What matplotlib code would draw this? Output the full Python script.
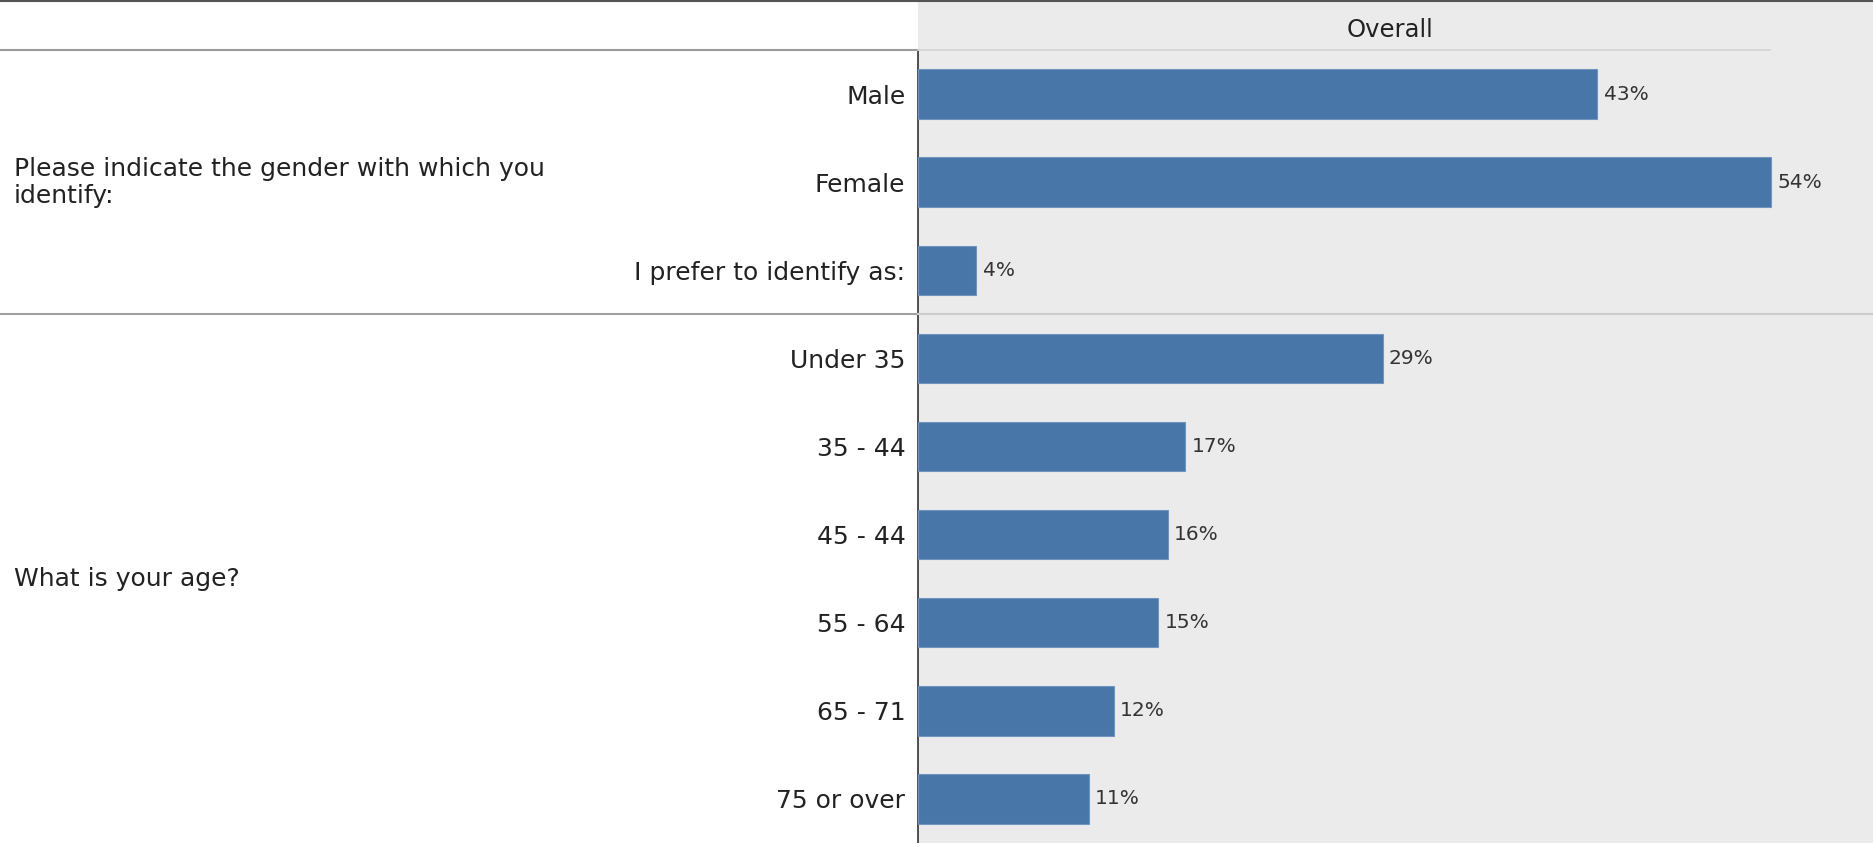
import numpy as np
import matplotlib.pyplot as plt
import matplotlib.transforms as mtransforms
from matplotlib.lines import Line2D
from matplotlib.patches import Rectangle

# data
categories = ['Male', 'Female', 'I prefer to identify as:',
              'Under 35', '35 - 44', '45 - 44', '55 - 64', '65 - 71', '75 or over']
values = [43.0, 54.0, 3.7, 29.4, 16.9, 15.8, 15.2, 12.4, 10.8]
value_labels = ['43%', '54%', '4%', '29%', '17%', '16%', '15%', '12%', '11%']
questions = ['Please indicate the gender with which you\nidentify:', 'What is your age?']
question_rows = [1, 5.5]
group_breaks = [2.5]
header = 'Overall'

W, H = 1874, 843
panel_x = 918
top_y = 50
bar_color = '#4876a9'
panel_color = '#ebebeb'

plt.rcParams['font.family'] = ['DejaVu Sans']

fig = plt.figure(figsize=(W / 100, H / 100), dpi=100)
fig.patch.set_facecolor('white')

# gray header block
fig.add_artist(Rectangle((panel_x / W, 1 - top_y / H), 1 - panel_x / W, top_y / H,
                         transform=fig.transFigure, facecolor=panel_color, edgecolor='none', zorder=0))

ax = fig.add_axes([panel_x / W, 0, 1 - panel_x / W, 1 - top_y / H])
ax.set_facecolor(panel_color)

y = np.arange(len(categories))
ax.barh(y, values, height=0.56, color=bar_color, edgecolor='#6f95c0', linewidth=0.8, zorder=3)
for yi, v, lab in zip(y, values, value_labels):
    ax.text(v + 0.4, yi, lab, va='center', ha='left', fontsize=14.5, color='#333333')

ax.set_xlim(0, 60.5)
ax.set_ylim(len(categories) - 0.5, -0.5)
ax.set_yticks(y)
ax.set_yticklabels(categories, fontsize=18, color='#222222')
ax.tick_params(axis='y', length=0, pad=9)
ax.set_xticks([])
for s in ['top', 'right', 'bottom']:
    ax.spines[s].set_visible(False)
ax.spines['left'].set_color('#333333')
ax.spines['left'].set_linewidth(1.2)

# header text
fig.text((panel_x + W) / 2 / W - 0.003, 1 - 30 / H, header, ha='center', va='center',
         fontsize=17.5, color='#222222')

# lines across the figure
fig.add_artist(Line2D([0, 1], [1 - 1 / H, 1 - 1 / H], transform=fig.transFigure,
                      color='#555555', linewidth=1.5))
fig.add_artist(Line2D([0, panel_x / W], [1 - top_y / H, 1 - top_y / H], transform=fig.transFigure,
                      color='#9a9a9a', linewidth=1.5))
fig.add_artist(Line2D([panel_x / W, 1770 / W], [1 - top_y / H, 1 - top_y / H], transform=fig.transFigure,
                      color='#d4d4d4', linewidth=1.2))

trans = mtransforms.blended_transform_factory(fig.transFigure, ax.transData)
for b in group_breaks:
    fig.add_artist(Line2D([0, panel_x / W], [b, b], transform=trans, color='#a0a0a0', linewidth=1.5))
    fig.add_artist(Line2D([panel_x / W, 1], [b, b], transform=trans, color='#cccccc', linewidth=1.5))

for q, r in zip(questions, question_rows):
    fig.text(14 / W, r, q, transform=trans, ha='left', va='center', fontsize=18,
             color='#222222', linespacing=1.15)

fig.savefig('out.png', dpi=100)
